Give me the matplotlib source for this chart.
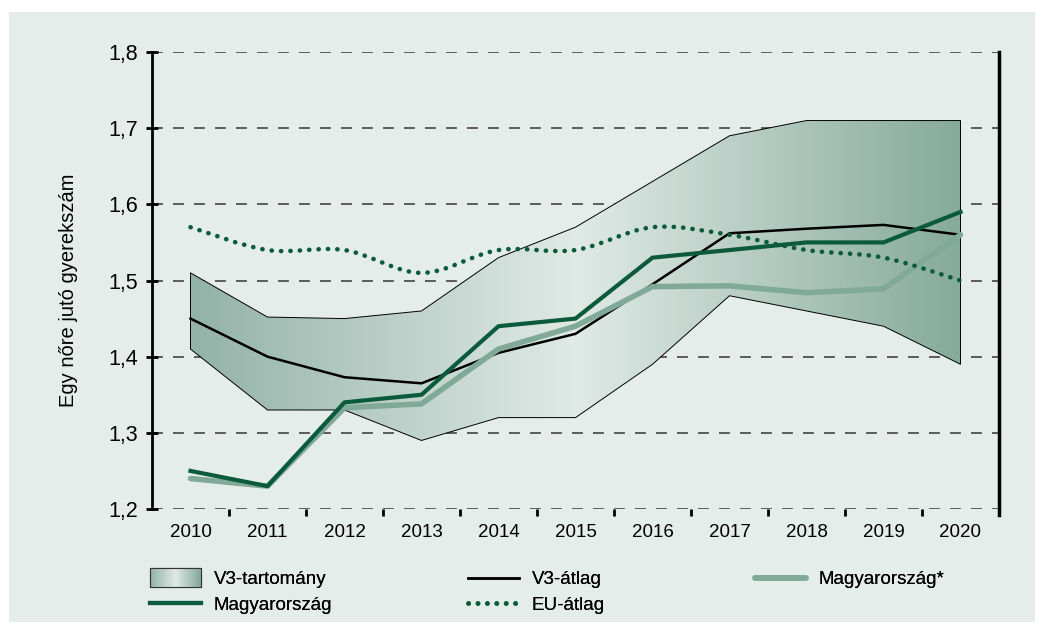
import numpy as np
import matplotlib.pyplot as plt
from matplotlib.patches import Rectangle
from matplotlib.path import Path
from matplotlib.patches import PathPatch
from matplotlib.legend_handler import HandlerBase
from matplotlib.colors import LinearSegmentedColormap

plt.rcParams['font.family'] = ['Liberation Sans', 'DejaVu Sans']

years = ['2010', '2011', '2012', '2013', '2014', '2015', '2016', '2017', '2018', '2019', '2020']
v3_upper = [1.51, 1.452, 1.45, 1.46, 1.53, 1.57, 1.63, 1.69, 1.71, 1.71, 1.71]
v3_lower = [1.41, 1.33, 1.33, 1.29, 1.32, 1.32, 1.39, 1.48, 1.46, 1.44, 1.39]
v3_mean = [1.45, 1.40, 1.373, 1.365, 1.405, 1.43, 1.495, 1.562, 1.568, 1.573, 1.56]
hu = [1.25, 1.23, 1.34, 1.35, 1.44, 1.45, 1.53, 1.54, 1.55, 1.55, 1.59]
hu_star = [1.24, 1.23, 1.333, 1.338, 1.41, 1.44, 1.492, 1.493, 1.484, 1.489, 1.56]
eu = [1.57, 1.54, 1.54, 1.51, 1.54, 1.54, 1.57, 1.56, 1.54, 1.53, 1.50]

dark_green = '#0b5a3c'
light_green = '#80a99a'
band_cmap = LinearSegmentedColormap.from_list(
    'band', [(0, '#93b3a8'), (0.5, '#e0eae6'), (1, '#86aa9c')])

fig = plt.figure(figsize=(10.43, 6.33), dpi=100, facecolor='white')
fig.patches.append(Rectangle((9 / 1043, 1 - 622 / 633), 1026 / 1043, 610 / 633,
                             transform=fig.transFigure, facecolor='#e4edea',
                             edgecolor='none', zorder=-10))
ax = fig.add_axes([152 / 1043, 1 - 509 / 633, 847 / 1043, 457 / 633])
ax.patch.set_alpha(0)

x = np.arange(len(years))

# band with horizontal gradient
band = ax.fill_between(x, v3_lower, v3_upper, facecolor='none',
                       edgecolor='black', linewidth=0.7, zorder=2)
grad = np.linspace(0, 1, 256).reshape(1, -1)
img = ax.imshow(grad, cmap=band_cmap, aspect='auto', extent=[0, 10, 1.2, 1.8],
                zorder=1, interpolation='bicubic')
img.set_clip_path(band.get_paths()[0], transform=ax.transData)

ax.plot(x, v3_mean, color='black', lw=1.8, zorder=4, solid_joinstyle='miter')
ax.plot(x, hu_star, color=light_green, lw=4, zorder=5, solid_capstyle='round')
ax.plot(x, hu, color=dark_green, lw=3, zorder=6)

# EU line as a smooth curve through the yearly values
pts = np.column_stack([x, eu]).astype(float)
verts = [tuple(pts[0])]
codes = [Path.MOVETO]
for i in range(len(pts) - 1):
    p0 = pts[max(i - 1, 0)]
    p1 = pts[i]
    p2 = pts[i + 1]
    p3 = pts[min(i + 2, len(pts) - 1)]
    c1 = p1 + (p2 - p0) / 6
    c2 = p2 - (p3 - p1) / 6
    verts += [tuple(c1), tuple(c2), tuple(p2)]
    codes += [Path.CURVE4] * 3
ax.add_patch(PathPatch(Path(verts, codes), facecolor='none', edgecolor=dark_green,
                       lw=3.3, linestyle=(0, (0.05, 2.0)), capstyle='round', zorder=7))

ax.set_xlim(-0.5, 10.5)
ax.set_ylim(1.2, 1.8)
ax.set_yticks(np.arange(1.2, 1.81, 0.1))
ax.set_yticklabels([f'{v:.1f}'.replace('.', ',') for v in np.arange(1.2, 1.81, 0.1)])
ax.set_xticks(x)
ax.set_xticklabels(years)
ax.set_xticks(np.arange(0.5, 10, 1), minor=True)
ax.tick_params(axis='x', which='major', length=0, pad=11, labelsize=13.5)
ax.tick_params(axis='x', which='minor', length=5, width=2, direction='out', color='black')
ax.tick_params(axis='y', length=8, width=2, direction='inout', labelsize=15.5, pad=6)
ax.yaxis.grid(True, linestyle=(0, (5.6, 5.2)), color='#5a5a5a', lw=1.4, zorder=0)
ax.set_axisbelow(True)
for s in ['top', 'bottom']:
    ax.spines[s].set_visible(False)
ax.spines['left'].set_linewidth(2)
ax.spines['right'].set_linewidth(2.5)
ax.spines['right'].set_bounds(1.192, 1.8)
fig.text(68 / 1043, 1 - 290 / 633, 'Egy nőre jutó gyerekszám', fontsize=14.5,
         rotation=90, ha='center', va='center')


class GradientHandler(HandlerBase):
    def create_artists(self, legend, orig_handle, xdescent, ydescent, width, height,
                       fontsize, trans):
        n = 30
        arts = []
        for k in range(n):
            r = Rectangle((-xdescent + width * k / n, -ydescent - 2), width / n + 0.3,
                          height + 4, facecolor=band_cmap(k / (n - 1)),
                          edgecolor='none', transform=trans)
            arts.append(r)
        arts.append(Rectangle((-xdescent, -ydescent - 2), width, height + 4,
                              facecolor='none', edgecolor='#333333', lw=0.8,
                              transform=trans))
        return arts


band_handle = Rectangle((0, 0), 1, 1)
h_v3, = ax.plot([], [], color='black', lw=1.8)
h_hu, = ax.plot([], [], color=dark_green, lw=3)
h_star, = ax.plot([], [], color=light_green, lw=4, solid_capstyle='round')
h_eu, = ax.plot([], [], color=dark_green, lw=3.3, linestyle=(0, (0.05, 2.0)),
                dash_capstyle='round')

leg_kw = dict(loc='upper left', frameon=False, fontsize=13.5, handlelength=2.7,
              handletextpad=0.7, labelspacing=0.45, borderpad=0, borderaxespad=0)
columns = [
    ([band_handle, h_hu], ['V3-tartomány', 'Magyarország'], 150),
    ([h_v3, h_eu], ['V3-átlag', 'EU-átlag'], 468),
    ([h_star], ['Magyarország*'], 755),
]
for handles, labels, xpix in columns:
    leg = fig.legend(handles, labels, handler_map={Rectangle: GradientHandler()},
                     bbox_to_anchor=(xpix / 1043, 1 - 571 / 633), **leg_kw)
    fig.add_artist(leg)

fig.savefig('out.png', dpi=100)
